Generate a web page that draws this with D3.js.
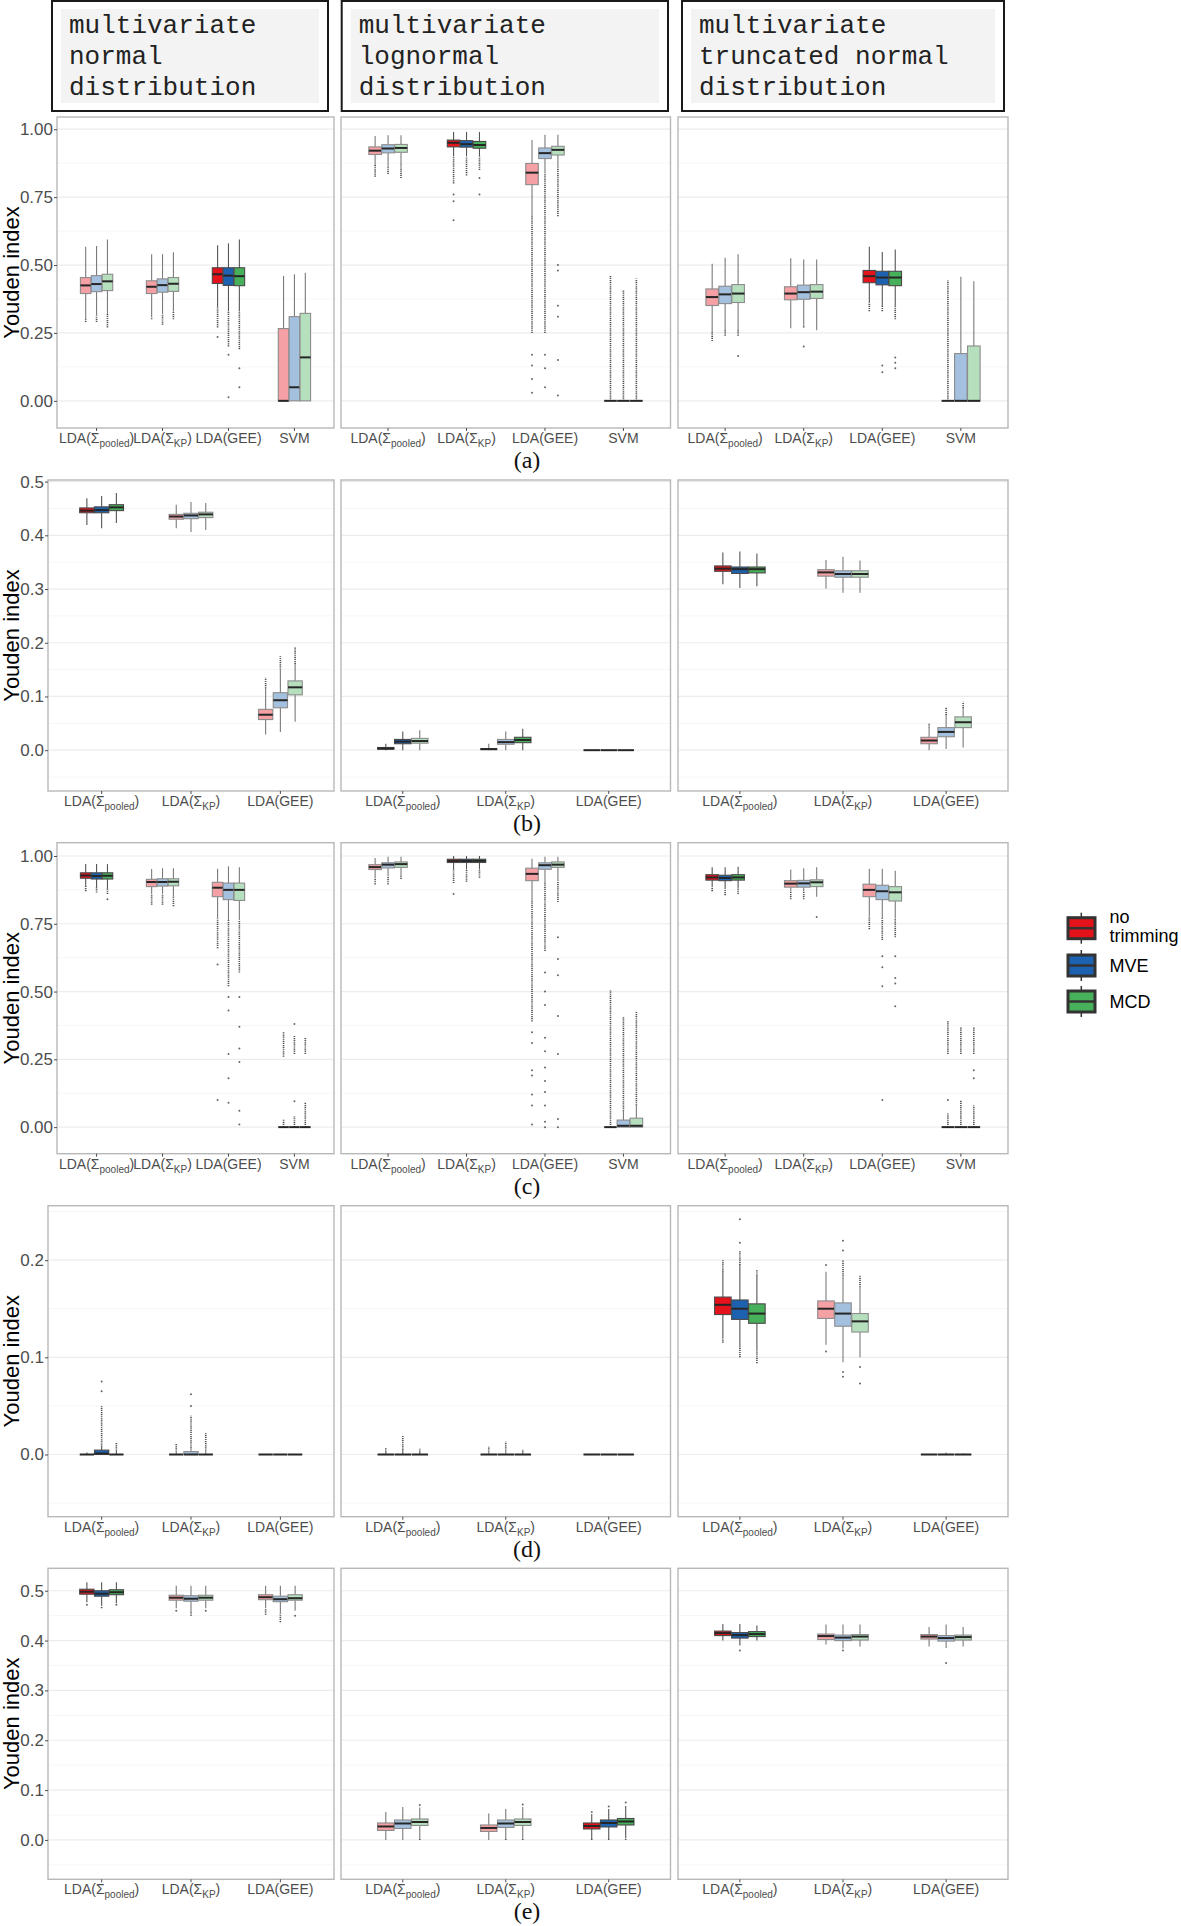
<!DOCTYPE html>
<html>
<head>
<meta charset="utf-8">
<script src="https://cdn.jsdelivr.net/npm/d3@7"></script>
<style>
  body { margin: 0; background: #fff; }
  svg { display: block; }
</style>
</head>
<body>
<script>
// trimming methods and their colours
const trims = ['no trimming', 'MVE', 'MCD'];
const trimLegend = [['no', 'trimming'], ['MVE'], ['MCD']];
const trimColors = ['#e3121b', '#1c62b0', '#47b05a'];

const distLines = [
  ['multivariate', 'normal', 'distribution'],
  ['multivariate', 'lognormal', 'distribution'],
  ['multivariate', 'truncated normal', 'distribution']
];

// x tick labels: text, subscript, closing text
const catLabels = [['LDA(Σ', 'pooled', ')'], ['LDA(Σ', 'KP', ')'], ['LDA(GEE)', '', ''], ['SVM', '', '']];
const rowLetters = ['(a)', '(b)', '(c)', '(d)', '(e)'];

// y ticks
const ticksQuarter = [0, 0.25, 0.5, 0.75, 1];
const tickLabelsQuarter = ['0.00', '0.25', '0.50', '0.75', '1.00'];
const ticksTenth = [0, 0.1, 0.2, 0.3, 0.4, 0.5];
const tickLabelsTenth = ['0.0', '0.1', '0.2', '0.3', '0.4', '0.5'];
const ticksSmall = [0, 0.1, 0.2];
const tickLabelsSmall = ['0.0', '0.1', '0.2'];

// every box: [lower whisker, q1, median, q3, upper whisker, outliers]
// an outlier is one value, or [from, to] for a dense run of points
const a_normal = [
  [[0.30, 0.395, 0.425, 0.454, 0.567, [[0.29, 0.30]]], [0.315, 0.402, 0.43, 0.461, 0.57, [[0.29, 0.315]]], [0.32, 0.406, 0.44, 0.466, 0.594, [[0.27, 0.32]]]],
  [[0.309, 0.395, 0.42, 0.442, 0.54, [[0.30, 0.309]]], [0.32, 0.40, 0.426, 0.449, 0.54, [[0.28, 0.32]]], [0.33, 0.403, 0.431, 0.454, 0.547, [[0.30, 0.33]]]],
  [[0.345, 0.432, 0.466, 0.49, 0.573, [[0.27, 0.345], 0.235]], [0.33, 0.425, 0.461, 0.49, 0.58, [[0.20, 0.33], 0.17, 0.013]], [0.33, 0.424, 0.459, 0.49, 0.594, [[0.19, 0.33], 0.12, 0.05]]],
  [[0, 0, 0, 0.266, 0.46, []], [0, 0, 0.05, 0.31, 0.466, []], [0, 0, 0.16, 0.322, 0.472, []]]
];
const a_lognormal = [
  [[0.868, 0.907, 0.921, 0.935, 0.975, [[0.825, 0.868]]], [0.866, 0.913, 0.929, 0.943, 0.978, [[0.835, 0.866]]], [0.87, 0.915, 0.931, 0.944, 0.978, [[0.82, 0.87]]]],
  [[0.90, 0.935, 0.95, 0.96, 0.99, [[0.80, 0.90], 0.76, 0.735, 0.665]], [0.90, 0.934, 0.945, 0.958, 0.99, [[0.83, 0.90]]], [0.90, 0.93, 0.942, 0.955, 0.99, [[0.85, 0.90], 0.82, 0.76]]],
  [[0.68, 0.796, 0.84, 0.874, 0.96, [[0.25, 0.68], 0.17, 0.13, 0.08, 0.03]], [0.84, 0.892, 0.912, 0.931, 0.98, [[0.25, 0.84], 0.17, 0.12, 0.05]], [0.86, 0.905, 0.924, 0.937, 0.98, [[0.68, 0.86], 0.5, 0.48, 0.35, 0.31, 0.15, 0.02]]],
  [[0, 0, 0, 0, 0, [[0, 0.46]]], [0, 0, 0, 0, 0, [[0, 0.41]]], [0, 0, 0, 0, 0, [[0, 0.45]]]]
];
const a_truncated = [
  [[0.254, 0.351, 0.382, 0.412, 0.505, [[0.22, 0.254]]], [0.26, 0.358, 0.392, 0.422, 0.527, [[0.24, 0.26]]], [0.26, 0.362, 0.395, 0.428, 0.54, [[0.24, 0.26], 0.165]]],
  [[0.267, 0.372, 0.395, 0.42, 0.525, []], [0.28, 0.374, 0.40, 0.426, 0.52, [[0.27, 0.28], 0.20]], [0.26, 0.377, 0.402, 0.428, 0.52, []]],
  [[0.36, 0.435, 0.459, 0.48, 0.567, [[0.33, 0.36]]], [0.35, 0.427, 0.454, 0.477, 0.548, [[0.33, 0.35], 0.13, 0.105]], [0.35, 0.424, 0.454, 0.477, 0.557, [[0.30, 0.35], 0.16, 0.14, 0.12]]],
  [[0, 0, 0, 0, 0, [[0, 0.443]]], [0, 0, 0, 0.174, 0.457, []], [0, 0, 0, 0.202, 0.44, []]]
];

const b_normal = [
  [[0.419, 0.442, 0.446, 0.451, 0.469, []], [0.413, 0.442, 0.447, 0.453, 0.473, []], [0.423, 0.446, 0.452, 0.457, 0.479, []]],
  [[0.413, 0.43, 0.435, 0.439, 0.457, []], [0.406, 0.431, 0.437, 0.441, 0.462, []], [0.41, 0.433, 0.439, 0.443, 0.46, []]],
  [[0.029, 0.057, 0.066, 0.076, 0.115, [[0.115, 0.135]]], [0.034, 0.079, 0.093, 0.107, 0.15, [[0.15, 0.175]]], [0.053, 0.103, 0.117, 0.129, 0.16, [[0.16, 0.192]]]]
];
const b_lognormal = [
  [[0, 0.002, 0.003, 0.005, 0.012, []], [0, 0.012, 0.016, 0.02, 0.035, []], [0, 0.013, 0.017, 0.022, 0.037, []]],
  [[0, 0.001, 0.002, 0.003, 0.012, []], [0, 0.011, 0.015, 0.02, 0.035, []], [0, 0.014, 0.019, 0.024, 0.04, []]],
  [[0, 0, 0, 0, 0, []], [0, 0, 0, 0, 0, []], [0, 0, 0, 0, 0, []]]
];
const b_truncated = [
  [[0.309, 0.333, 0.338, 0.343, 0.368, []], [0.302, 0.329, 0.337, 0.341, 0.37, []], [0.305, 0.33, 0.337, 0.341, 0.366, []]],
  [[0.301, 0.324, 0.331, 0.336, 0.354, []], [0.293, 0.322, 0.328, 0.334, 0.36, []], [0.293, 0.322, 0.328, 0.334, 0.353, []]],
  [[0, 0.012, 0.018, 0.024, 0.042, [[0.042, 0.05]]], [0.002, 0.025, 0.034, 0.042, 0.065, [[0.065, 0.08]]], [0.005, 0.042, 0.052, 0.062, 0.078, [[0.078, 0.09]]]]
];

const c_normal = [
  [[0.89, 0.918, 0.928, 0.938, 0.97, [[0.87, 0.89]]], [0.885, 0.915, 0.926, 0.938, 0.97, [[0.865, 0.885]]], [0.88, 0.915, 0.927, 0.938, 0.97, [[0.86, 0.88], 0.84]]],
  [[0.86, 0.887, 0.904, 0.914, 0.952, [[0.82, 0.86]]], [0.86, 0.889, 0.904, 0.916, 0.955, [[0.82, 0.86]]], [0.855, 0.89, 0.905, 0.916, 0.955, [[0.815, 0.855]]]],
  [[0.77, 0.85, 0.883, 0.903, 0.953, [[0.66, 0.77], 0.6, 0.1]], [0.764, 0.839, 0.875, 0.90, 0.962, [[0.52, 0.764], 0.48, 0.43, 0.27, 0.18, 0.09]], [0.764, 0.836, 0.875, 0.90, 0.958, [[0.57, 0.764], 0.48, 0.37, 0.29, 0.24, 0.06, 0.01]]],
  [[0, 0, 0, 0, 0, [[0, 0.03], [0.26, 0.35]]], [0, 0, 0, 0, 0, [[0, 0.04], 0.095, [0.27, 0.34], 0.38]], [0, 0, 0, 0, 0, [[0, 0.09], [0.27, 0.33]]]]
];
const c_lognormal = [
  [[0.92, 0.95, 0.959, 0.968, 0.993, [[0.895, 0.92]]], [0.925, 0.956, 0.968, 0.975, 0.997, [[0.895, 0.925]]], [0.925, 0.958, 0.97, 0.978, 0.997, [[0.915, 0.925]]]],
  [[0.95, 0.976, 0.982, 0.988, 1.0, [[0.90, 0.95], 0.86]], [0.95, 0.976, 0.982, 0.988, 1.0, [[0.905, 0.95]]], [0.95, 0.976, 0.982, 0.988, 1.0, [[0.92, 0.95]]]],
  [[0.85, 0.909, 0.934, 0.955, 0.99, [[0.39, 0.85], 0.35, 0.31, 0.21, 0.19, 0.12, 0.08, 0.01]], [0.90, 0.951, 0.966, 0.975, 0.997, [[0.65, 0.90], 0.57, 0.5, 0.45, 0.33, 0.28, 0.22, 0.17, 0.13, 0.08, 0.02, 0.0]], [0.91, 0.958, 0.968, 0.978, 0.997, [[0.83, 0.91], 0.7, 0.62, 0.56, 0.41, 0.27, 0.03, 0.0]]],
  [[0, 0, 0, 0, 0, [[0, 0.505]]], [0, 0, 0.005, 0.026, 0.06, [[0.06, 0.406]]], [0, 0, 0.005, 0.033, 0.08, [[0.08, 0.425]]]]
];
const c_truncated = [
  [[0.885, 0.911, 0.921, 0.931, 0.958, [[0.87, 0.885]]], [0.88, 0.909, 0.919, 0.929, 0.958, [[0.855, 0.88]]], [0.885, 0.911, 0.921, 0.931, 0.96, [[0.86, 0.885]]]],
  [[0.87, 0.885, 0.898, 0.909, 0.95, [[0.84, 0.87]]], [0.87, 0.885, 0.899, 0.91, 0.955, [[0.84, 0.87]]], [0.85, 0.887, 0.903, 0.912, 0.958, [0.775]]],
  [[0.78, 0.85, 0.875, 0.896, 0.953, [[0.73, 0.78]]], [0.77, 0.839, 0.87, 0.892, 0.953, [[0.69, 0.77], 0.63, 0.59, 0.52, 0.1]], [0.77, 0.834, 0.866, 0.887, 0.946, [[0.70, 0.77], 0.63, 0.55, 0.53, 0.446]]],
  [[0, 0, 0, 0, 0, [[0, 0.05], 0.1, [0.27, 0.394]]], [0, 0, 0, 0, 0, [[0, 0.1], [0.27, 0.37]]], [0, 0, 0, 0, 0, [[0, 0.08], 0.18, 0.21, [0.27, 0.37]]]]
];

const d_normal = [
  [[0, 0, 0, 0, 0.002, []], [0, 0, 0.001, 0.0045, 0.008, [[0.008, 0.05], 0.065, 0.075]], [0, 0, 0, 0, 0.004, [[0.004, 0.012]]]],
  [[0, 0, 0, 0, 0.003, [[0.003, 0.011]]], [0, 0, 0, 0.003, 0.007, [[0.007, 0.04], 0.05, 0.062]], [0, 0, 0, 0, 0.004, [[0.004, 0.022]]]],
  [[0, 0, 0, 0, 0, []], [0, 0, 0, 0, 0, []], [0, 0, 0, 0, 0, []]]
];
const d_lognormal = [
  [[0, 0, 0, 0, 0.003, [[0.003, 0.007]]], [0, 0, 0, 0, 0.005, [[0.005, 0.019]]], [0, 0, 0, 0, 0.003, [[0.003, 0.006]]]],
  [[0, 0, 0, 0, 0.003, [[0.003, 0.008]]], [0, 0, 0, 0, 0.004, [[0.004, 0.013]]], [0, 0, 0, 0, 0.002, [[0.002, 0.005]]]],
  [[0, 0, 0, 0, 0, []], [0, 0, 0, 0, 0, []], [0, 0, 0, 0, 0, []]]
];
const d_truncated = [
  [[0.119, 0.144, 0.154, 0.162, 0.188, [[0.188, 0.20], [0.115, 0.119]]], [0.11, 0.139, 0.15, 0.159, 0.195, [[0.195, 0.21], 0.218, 0.242, [0.10, 0.11]]], [0.11, 0.135, 0.145, 0.155, 0.184, [[0.184, 0.19], [0.094, 0.11]]]],
  [[0.113, 0.14, 0.15, 0.158, 0.188, [0.195, 0.106]], [0.095, 0.132, 0.145, 0.156, 0.181, [[0.181, 0.20], 0.21, 0.22, 0.085, 0.08]], [0.10, 0.126, 0.137, 0.145, 0.172, [[0.172, 0.184], 0.09, 0.073]]],
  [[0, 0, 0, 0, 0, []], [0, 0, 0, 0, 0.002, []], [0, 0, 0, 0, 0.001, []]]
];

const e_normal = [
  [[0.477, 0.493, 0.498, 0.503, 0.517, [0.472]], [0.47, 0.489, 0.494, 0.50, 0.517, [[0.465, 0.47]]], [0.475, 0.492, 0.497, 0.502, 0.517, [0.472]]],
  [[0.465, 0.481, 0.486, 0.491, 0.51, [0.46]], [0.46, 0.479, 0.484, 0.49, 0.51, [[0.45, 0.46]]], [0.465, 0.481, 0.486, 0.491, 0.51, [0.46]]],
  [[0.465, 0.482, 0.487, 0.492, 0.51, [[0.452, 0.465]]], [0.455, 0.478, 0.483, 0.489, 0.51, [[0.437, 0.455]]], [0.46, 0.481, 0.485, 0.492, 0.51, [0.45]]]
];
const e_lognormal = [
  [[0, 0.019, 0.027, 0.034, 0.056, []], [0, 0.023, 0.033, 0.04, 0.066, []], [0.003, 0.029, 0.036, 0.042, 0.065, [[0, 0.003], 0.07]]],
  [[0, 0.017, 0.024, 0.03, 0.053, []], [0.002, 0.025, 0.033, 0.04, 0.062, [[0, 0.002]]], [0.003, 0.029, 0.036, 0.042, 0.066, [[0, 0.003], 0.071]]],
  [[0.002, 0.022, 0.028, 0.034, 0.052, [[0, 0.002], 0.056]], [0.002, 0.026, 0.034, 0.04, 0.062, [[0, 0.002], 0.067]], [0.004, 0.03, 0.037, 0.043, 0.068, [[0, 0.004], 0.075]]]
];
const e_truncated = [
  [[0.40, 0.41, 0.415, 0.419, 0.433, []], [0.39, 0.405, 0.411, 0.416, 0.433, [0.38]], [0.40, 0.408, 0.413, 0.418, 0.43, []]],
  [[0.392, 0.402, 0.409, 0.413, 0.432, []], [0.384, 0.40, 0.406, 0.411, 0.432, [0.38]], [0.388, 0.401, 0.408, 0.412, 0.432, []]],
  [[0.388, 0.403, 0.408, 0.412, 0.427, []], [0.385, 0.399, 0.405, 0.41, 0.432, [0.355]], [0.388, 0.401, 0.407, 0.411, 0.427, []]]
];

// layout
const W = 1181, H = 1926;
const panelH = 311;
const colRight = [334, 670.5, 1008];
const colLeft = [null, 341, 678];
const rows = [
  {panels: [a_normal, a_lognormal, a_truncated], top: 117, left: 57, domain: [-0.1, 1.045], ticks: ticksQuarter, labels: tickLabelsQuarter, step: 0.25},
  {panels: [b_normal, b_lognormal, b_truncated], top: 480, left: 48, domain: [-0.076, 0.503], ticks: ticksTenth, labels: tickLabelsTenth, step: 0.1},
  {panels: [c_normal, c_lognormal, c_truncated], top: 842.7, left: 57, domain: [-0.098, 1.049], ticks: ticksQuarter, labels: tickLabelsQuarter, step: 0.25},
  {panels: [d_normal, d_lognormal, d_truncated], top: 1205.7, left: 48, domain: [-0.064, 0.256], ticks: ticksSmall, labels: tickLabelsSmall, step: 0.1},
  {panels: [e_normal, e_lognormal, e_truncated], top: 1568.3, left: 48, domain: [-0.079, 0.545], ticks: ticksTenth, labels: tickLabelsTenth, step: 0.1}
];

const paleColors = trimColors.map(c => d3.interpolateRgb('#ffffff', c)(0.4));

const svg = d3.select('body').append('svg')
  .attr('width', W)
  .attr('height', H)
  .style('font-family', '"Liberation Sans", Arial, sans-serif');

svg.append('rect').attr('width', W).attr('height', H).attr('fill', '#fff');

// strip headers
const strips = [[52, 328], [341.7, 668], [682, 1004]];
strips.forEach((s, i) => {
  const g = svg.append('g');
  g.append('rect')
    .attr('x', s[0]).attr('y', 1)
    .attr('width', s[1] - s[0]).attr('height', 110)
    .attr('fill', '#fff').attr('stroke', '#1a1a1a').attr('stroke-width', 2);
  g.append('rect')
    .attr('x', s[0] + 9).attr('y', 9)
    .attr('width', s[1] - s[0] - 18).attr('height', 94)
    .attr('fill', '#f3f3f3');
  distLines[i].forEach((line, j) => {
    g.append('text')
      .attr('x', s[0] + 17)
      .attr('y', 33 + j * 31)
      .style('font-family', '"Liberation Mono", "Courier New", monospace')
      .style('font-size', '26px')
      .style('fill', '#222')
      .attr('xml:space', 'preserve')
      .text(line);
  });
});

rows.forEach((row, r) => {
  const top = row.top;
  const bottom = top + panelH;
  const y = d3.scaleLinear().domain(row.domain).range([bottom, top]);

  // minor grid positions: midpoints between major ticks
  const minors = [];
  for (let v = row.ticks[0] - row.step / 2; v <= row.domain[1]; v += row.step) {
    if (v >= row.domain[0]) minors.push(+v.toFixed(4));
  }

  row.panels.forEach((panel, p) => {
    const x0 = p === 0 ? row.left : colLeft[p];
    const x1 = colRight[p];
    const g = svg.append('g');

    g.selectAll('.minor').data(minors).enter().append('line')
      .attr('x1', x0).attr('x2', x1)
      .attr('y1', d => y(d)).attr('y2', d => y(d))
      .attr('stroke', '#f6f6f6').attr('stroke-width', 1);
    g.selectAll('.major').data(row.ticks).enter().append('line')
      .attr('x1', x0).attr('x2', x1)
      .attr('y1', d => y(d)).attr('y2', d => y(d))
      .attr('stroke', '#ececec').attr('stroke-width', 1.2);

    const nCat = panel.length;
    const x = d3.scaleBand().domain(d3.range(nCat)).range([x0, x1])
      .paddingInner(0.5).paddingOuter(0.35);
    const xi = d3.scaleBand().domain([0, 1, 2]).range([0, x.bandwidth()]).padding(0.03);
    const bw = xi.bandwidth();

    // the category with the highest median gets full colour, per trimming
    const best = trims.map((t, k) => d3.maxIndex(panel, cat => cat[k][2]));

    panel.forEach((cat, c) => {
      cat.forEach((b, k) => {
        const [lo, q1, med, q3, hi, out] = b;
        const bx = x(c) + xi(k);
        const cx = bx + bw / 2;
        const full = best[k] === c;
        const bg = g.append('g');

        out.forEach(o => {
          if (Array.isArray(o)) {
            bg.append('line')
              .attr('x1', cx).attr('x2', cx)
              .attr('y1', y(o[0])).attr('y2', y(o[1]))
              .attr('stroke', '#222').attr('stroke-width', 1.6)
              .attr('stroke-dasharray', '1.2,0.9').attr('opacity', 0.8);
          } else {
            bg.append('circle')
              .attr('cx', cx).attr('cy', y(o)).attr('r', 1)
              .attr('fill', '#333').attr('opacity', 0.75);
          }
        });

        bg.append('line')
          .attr('x1', cx).attr('x2', cx)
          .attr('y1', y(hi)).attr('y2', y(q3))
          .attr('stroke', full ? '#555' : '#7a7a7a').attr('stroke-width', 1.1);
        bg.append('line')
          .attr('x1', cx).attr('x2', cx)
          .attr('y1', y(q1)).attr('y2', y(lo))
          .attr('stroke', full ? '#555' : '#7a7a7a').attr('stroke-width', 1.1);

        bg.append('rect')
          .attr('x', bx).attr('y', y(q3))
          .attr('width', bw).attr('height', Math.max(0, y(q1) - y(q3)))
          .attr('fill', full ? trimColors[k] : paleColors[k])
          .attr('stroke', full ? '#4a4a4a' : '#8c8c8c')
          .attr('stroke-width', 1.1);

        bg.append('line')
          .attr('x1', bx).attr('x2', bx + bw)
          .attr('y1', y(med)).attr('y2', y(med))
          .attr('stroke', '#262626').attr('stroke-width', 2);
      });
    });

    // panel border
    g.append('rect')
      .attr('x', x0).attr('y', top)
      .attr('width', x1 - x0).attr('height', panelH)
      .attr('fill', 'none').attr('stroke', '#b8b8b8').attr('stroke-width', 1.4);

    // x axis
    const xa = g.append('g')
      .attr('transform', `translate(0,${bottom})`)
      .call(d3.axisBottom(x).tickSize(3).tickPadding(2).tickFormat(() => ''));
    xa.select('.domain').remove();
    xa.selectAll('.tick line').attr('stroke', '#4d4d4d');
    xa.selectAll('.tick text').each(function(d) {
      const t = d3.select(this)
        .style('font-size', '14px')
        .style('font-family', '"Liberation Sans", Arial, sans-serif')
        .attr('fill', '#4d4d4d');
      const parts = catLabels[d];
      t.append('tspan').text(parts[0]);
      if (parts[1]) {
        t.append('tspan').attr('dy', 4).style('font-size', '10px').text(parts[1]);
        t.append('tspan').attr('dy', -4).text(parts[2]);
      }
    });

    // y axis only on the first panel of the row
    if (p === 0) {
      const ya = g.append('g')
        .attr('transform', `translate(${x0},0)`)
        .call(d3.axisLeft(y).tickValues(row.ticks).tickSize(3).tickPadding(1)
          .tickFormat((d, i) => row.labels[i]));
      ya.select('.domain').remove();
      ya.selectAll('.tick line').attr('stroke', '#4d4d4d');
      ya.selectAll('.tick text')
        .style('font-size', '17px')
        .style('font-family', '"Liberation Sans", Arial, sans-serif')
        .attr('fill', '#4d4d4d');

      g.append('text')
        .attr('transform', `translate(19,${(top + bottom) / 2}) rotate(-90)`)
        .attr('text-anchor', 'middle')
        .style('font-size', '22px')
        .style('fill', '#000')
        .text('Youden index');
    }
  });

  svg.append('text')
    .attr('x', 527)
    .attr('y', bottom + 40)
    .attr('text-anchor', 'middle')
    .style('font-family', '"Liberation Serif", "Times New Roman", serif')
    .style('font-size', '24px')
    .style('fill', '#111')
    .text(rowLetters[r]);
});

// legend
const legend = svg.append('g');
const keyTop = [917.7, 955, 991];
trims.forEach((t, k) => {
  const ky = keyTop[k];
  const kg = legend.append('g');
  kg.append('line')
    .attr('x1', 1081.3).attr('x2', 1081.3)
    .attr('y1', ky - 5).attr('y2', ky + 26)
    .attr('stroke', '#333').attr('stroke-width', 1.5);
  kg.append('rect')
    .attr('x', 1068).attr('y', ky)
    .attr('width', 27).attr('height', 21)
    .attr('fill', trimColors[k]).attr('stroke', '#333').attr('stroke-width', 3);
  kg.append('line')
    .attr('x1', 1068).attr('x2', 1095)
    .attr('y1', ky + 10.5).attr('y2', ky + 10.5)
    .attr('stroke', '#333').attr('stroke-width', 2.5);
  const lines = trimLegend[k];
  lines.forEach((line, j) => {
    legend.append('text')
      .attr('x', 1109.5)
      .attr('y', lines.length === 1 ? ky + 17 : ky + 5.5 + j * 19)
      .style('font-size', '18px')
      .style('fill', '#000')
      .text(line);
  });
});
</script>
</body>
</html>
